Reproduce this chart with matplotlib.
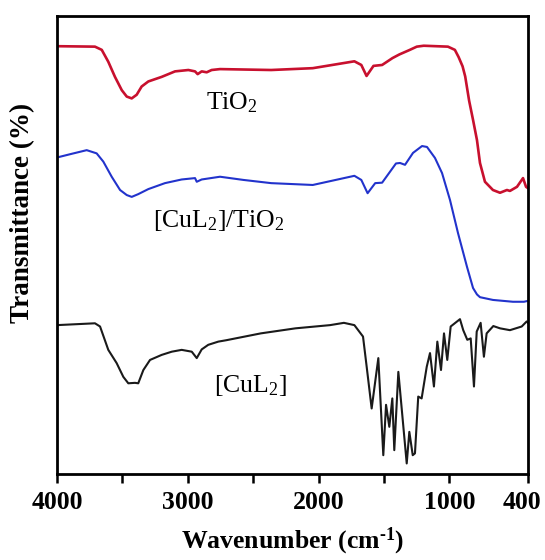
import matplotlib
matplotlib.use("Agg")
import matplotlib.pyplot as plt
from matplotlib.transforms import ScaledTranslation

plt.rcParams['font.family'] = ['Liberation Serif', 'DejaVu Serif']
plt.rcParams['mathtext.fontset'] = 'custom'
plt.rcParams['mathtext.rm'] = 'Liberation Serif'
plt.rcParams['mathtext.bf'] = 'Liberation Serif:bold'
plt.rcParams['mathtext.default'] = 'regular'

# FT-IR spectra (wavenumber in cm-1, transmittance in arbitrary offset units)
tio2_wn = [4000, 3710, 3658, 3608, 3557, 3505, 3467, 3429, 3391, 3353, 3302, 3200,
           3098, 2996, 2945, 2925, 2894, 2856, 2818, 2754, 2363, 2045, 1727, 1674,
           1634, 1581, 1515, 1436, 1383, 1303, 1250, 1197, 1012, 959, 930, 900, 880,
           850, 820, 790, 767, 729, 668, 614, 561, 538, 484, 438, 415, 400]
tio2_t = [93.4, 93.3, 92.6, 90.0, 86.7, 83.8, 82.4, 82.0, 82.8, 84.6, 85.7, 86.7,
          87.9, 88.2, 87.9, 87.3, 87.9, 87.7, 88.2, 88.4, 88.2, 88.6, 90.1, 89.3,
          86.9, 89.1, 89.3, 90.8, 91.6, 92.6, 93.3, 93.5, 93.3, 92.6, 91.0, 89.0, 86.8,
          81.5, 77.3, 72.9, 67.9, 63.8, 62.0, 61.4, 62.0, 61.8, 62.7, 64.6, 62.7, 62.4]

hybrid_wn = [4000, 3888, 3773, 3697, 3646, 3582, 3518, 3467, 3429, 3379, 3302, 3175,
             3047, 2945, 2932, 2894, 2754, 2575, 2363, 2045, 1727, 1674, 1626, 1568,
             1515, 1409, 1378, 1340, 1279, 1210, 1172, 1111, 1057, 996, 935, 866, 820,
             790, 767, 668, 515, 431, 400]
hybrid_t = [69.1, 69.9, 70.7, 70.0, 68.2, 64.9, 62.0, 60.9, 60.5, 61.1, 62.2, 63.5,
            64.3, 64.6, 63.8, 64.3, 64.9, 64.2, 63.5, 63.1, 65.1, 64.2, 61.3, 63.5,
            63.6, 67.8, 67.9, 67.5, 70.1, 71.6, 71.4, 69.0, 65.7, 59.8, 52.6, 45.2, 40.6,
            39.2, 38.6, 38.0, 37.6, 37.6, 37.8]

cul2_wn = [4000, 3710, 3671, 3608, 3544, 3493, 3455, 3404, 3379, 3340, 3289, 3200,
           3123, 3047, 2970, 2932, 2894, 2844, 2767, 2707, 2442, 2177, 1913, 1807,
           1727, 1661, 1633, 1595, 1544, 1506, 1485, 1460, 1437, 1422, 1391, 1327,
           1307, 1281, 1264, 1239, 1213, 1174, 1149, 1119, 1093, 1065, 1042, 1017,
           991, 920, 895, 864, 838, 813, 792, 762, 737, 716, 665, 614, 538, 448, 410, 400]
cul2_t = [32.5, 32.9, 32.2, 27.1, 24.2, 21.2, 19.8, 19.9, 19.8, 22.7, 24.9, 26.0,
          26.7, 27.1, 26.7, 25.3, 27.2, 28.2, 28.9, 29.2, 30.7, 31.8, 32.5, 33.0,
          32.5, 30.0, 23.4, 14.3, 25.3, 4.1, 15.1, 10.3, 16.5, 5.2, 22.3, 2.3,
          9.2, 4.1, 4.5, 16.9, 16.5, 23.4, 26.4, 19.1, 28.9, 22.7, 30.7, 24.9,
          32.2, 33.8, 31.4, 29.3, 29.6, 19.1, 31.1, 33.0, 25.6, 30.7, 32.3, 31.8, 31.4,
          32.2, 33.3, 33.0]

tick_pos = [4000, 3500, 3000, 2500, 2000, 1500, 1000, 400]
tick_lbl = ['4000', '', '3000', '', '2000', '', '1000', '400']

fig = plt.figure(figsize=(5.45, 5.60), dpi=100)
ax = fig.add_axes([0.1046, 0.1536, 0.8642, 0.8179])

ax.plot(tio2_wn, tio2_t, color='#c8102e', lw=1.9, solid_joinstyle='round')
ax.plot(hybrid_wn, hybrid_t, color='#2233cc', lw=1.5, solid_joinstyle='round')
ax.plot(cul2_wn, cul2_t, color='#1a1a1a', lw=1.5, solid_joinstyle='round')

ax.text(2662, 79.7, 'TiO$_2$', fontsize=18.5, ha='center', va='baseline')
ax.text(2766, 53.9, '[CuL$_2$]/TiO$_2$', fontsize=18.5, ha='center', va='baseline')
ax.text(2525, 18.0, '[CuL$_2$]', fontsize=18.5, ha='center', va='baseline')

ax.set_xlim(4000, 400)
ax.set_ylim(0, 100)
ax.set_yticks([])
ax.set_xticks(tick_pos, tick_lbl)
ax.tick_params(axis='x', direction='out', length=6.5, width=1.8, pad=6,
               labelsize=18.5)
for lbl in ax.get_xticklabels():
    lbl.set_fontweight('bold')
last = ax.get_xticklabels()[-1]
last.set_transform(last.get_transform() + ScaledTranslation(-0.06, 0, fig.dpi_scale_trans))

for sp in ax.spines.values():
    sp.set_linewidth(2.0)

ax.set_xlabel('Wavenumber (cm$^{\u20101}$)', fontsize=18.5, fontweight='bold', labelpad=8)
fig.text(0.042, 0.6205, 'Transmittance (%)', fontsize=19.5, fontweight='bold',
         rotation=90, ha='center', va='center')

fig.savefig('out.png', dpi=100)
